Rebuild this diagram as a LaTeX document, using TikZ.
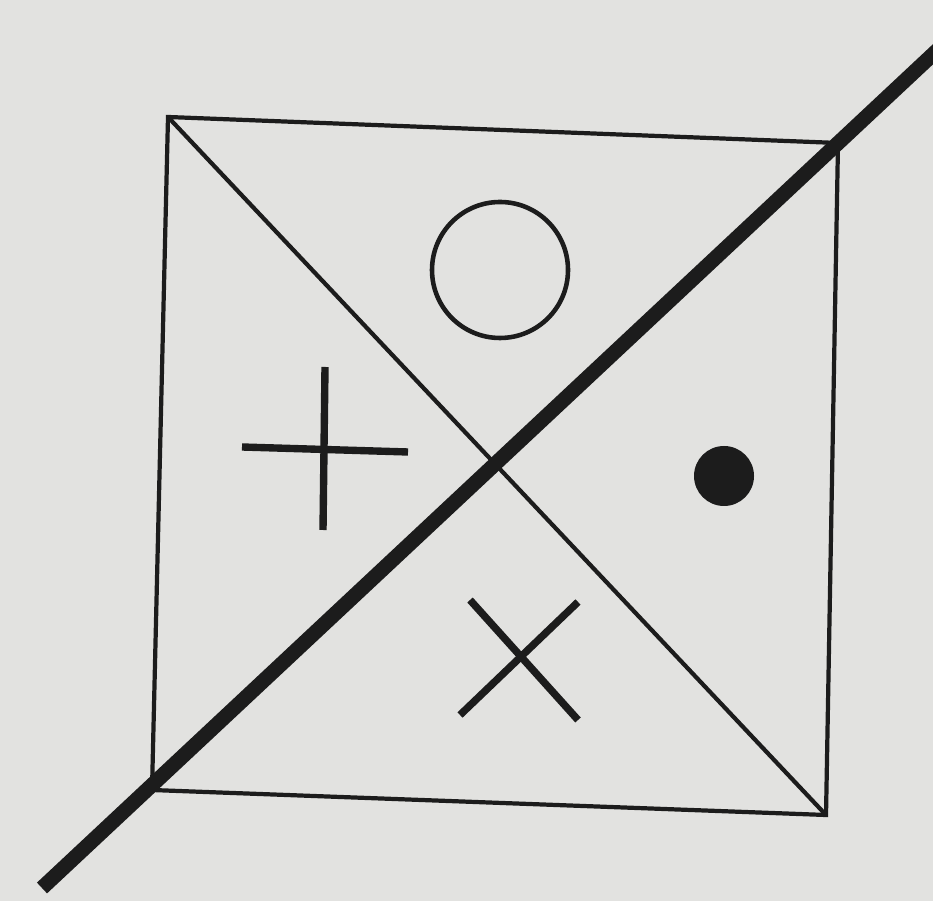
\documentclass[tikz,border=0pt]{standalone}
\usepackage{tikz}
\usetikzlibrary{calc}

\definecolor{paper}{RGB}{226,226,224}
\definecolor{ink}{RGB}{28,28,28}

\begin{document}
\begin{tikzpicture}
    [thinline/.style={draw=ink, line width=1.2pt},
markline/.style={draw=ink, line width=2.1pt},
heavyline/.style={draw=ink, line width=4.2pt},
dotmark/.style={circle, fill=ink, inner sep=0pt, minimum size=6mm}
]

\fill[paper] (0,0) rectangle (9.33,9.01);
\useasboundingbox (0,0) rectangle (9.33,9.01);
\clip (0,0) rectangle (9.33,9.01);

% corners of the square
\coordinate (tl) at (1.68,7.84);
\coordinate (tr) at (8.38,7.58);
\coordinate (br) at (8.26,0.86);
\coordinate (bl) at (1.52,1.11);

\draw[thinline] (tl) -- (tr) -- (br) -- (bl) -- cycle;
\draw[thinline] (tl) -- (br);

% heavy cut line
\coordinate (cutA) at (0.42,0.13);
\coordinate (cutB) at (9.60,8.72);
\draw[heavyline] (cutA) -- (cutB);

% circle
\node[circle, draw=ink, line width=1.3pt, minimum size=13.6mm, inner sep=0pt](ring) at (5.00,6.31){};

% plus
\coordinate (plusL) at (2.42,4.54);
\coordinate (plusR) at (4.08,4.49);
\coordinate (plusT) at (3.25,5.34);
\coordinate (plusB) at (3.23,3.71);
\draw[markline] (plusL) -- (plusR);
\draw[markline] (plusT) -- (plusB);

% dot
\node[dotmark](dot) at (7.24,4.25){};

% cross
\coordinate (crossA) at (4.60,1.86);
\coordinate (crossB) at (5.78,2.99);
\coordinate (crossC) at (4.70,3.01);
\coordinate (crossD) at (5.78,1.81);
\draw[markline] (crossA) -- (crossB);
\draw[markline] (crossC) -- (crossD);

\end{tikzpicture}
\end{document}
